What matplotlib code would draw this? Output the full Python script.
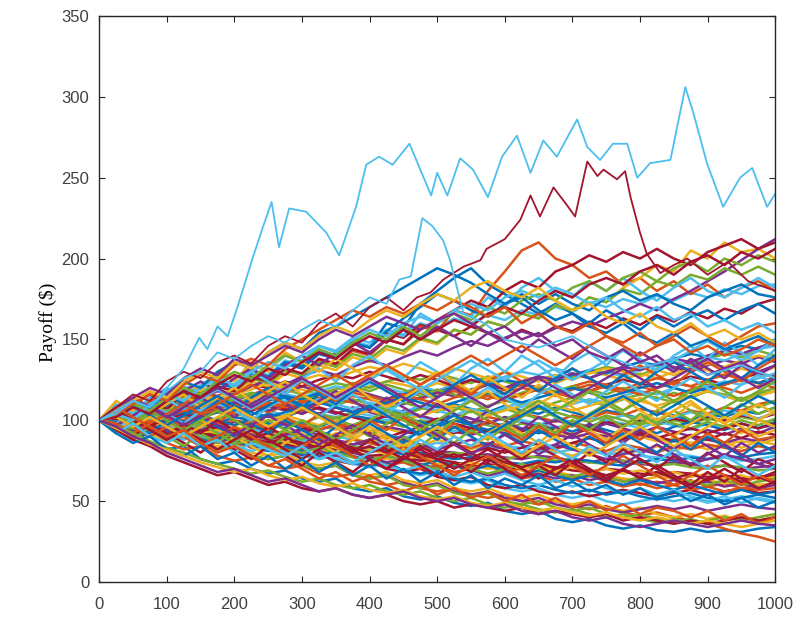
import numpy as np
import matplotlib
matplotlib.use("Agg")
import matplotlib.pyplot as plt

# MATLAB default colour order
line_colors = ["#0072BD", "#D95319", "#EDB120", "#7E2F8E", "#77AC30", "#4DBEEE", "#A2142F"]

# bulk paths, read every 25 steps (0..1000)
bulk_paths = [
    [100,93,95,86,82,84,76,73,75,70,67,69,64,62,64,58,56,58,53,51,53,49,47,49,44,42,44,39,37,39,35,33,35,32,31,33,31,32,31,33,34],
    [100,95,90,92,86,82,84,78,75,77,72,70,72,67,65,67,62,60,62,58,56,58,54,52,54,50,48,50,47,45,47,43,41,43,40,38,36,33,30,28,25],
    [100,97,99,93,90,92,86,84,86,80,78,80,74,72,74,68,66,68,63,61,63,58,56,58,54,52,54,50,48,50,46,44,46,42,40,42,39,41,38,40,42],
    [100,94,96,90,88,90,84,82,84,78,76,78,72,70,72,66,64,66,61,59,61,56,54,56,52,50,52,48,46,48,45,43,45,47,45,47,44,46,48,46,45],
    [100,96,98,92,89,91,85,82,84,78,76,78,72,70,72,66,64,66,60,58,60,55,53,55,50,48,50,46,44,46,42,40,42,39,37,39,36,38,40,38,40],
    [100,97,99,94,91,93,88,86,88,83,81,83,78,76,78,73,71,73,68,66,68,63,61,63,58,56,58,54,52,54,50,48,50,52,50,52,49,51,53,51,49],
    [100,103,99,96,98,92,90,92,86,84,86,80,78,80,75,73,75,70,68,70,65,63,65,60,58,60,56,54,56,53,55,57,55,53,55,57,54,56,58,55,56],
    [100,98,101,95,93,95,89,87,89,84,82,84,79,77,79,74,72,74,69,67,69,64,62,64,60,58,60,57,55,57,54,56,53,51,53,55,52,50,52,54,52],
    [100,104,99,101,95,97,91,93,88,90,85,87,82,84,79,81,77,79,74,76,72,74,70,72,68,70,66,68,64,66,62,64,60,62,60,63,59,61,58,60,60],
    [100,97,99,96,93,95,92,90,88,89,86,84,85,82,80,81,78,76,77,75,73,74,72,70,71,69,67,68,66,65,66,64,63,65,64,62,63,61,62,60,61],
    [100,104,101,98,100,97,95,97,94,92,93,90,88,89,87,85,86,84,82,83,81,80,78,79,77,76,78,77,75,74,76,75,73,72,74,73,71,72,70,71,72],
    [100,99,96,98,95,92,94,91,89,90,88,86,87,85,83,84,82,80,81,79,78,80,79,77,76,78,77,75,76,74,73,75,74,72,73,71,70,72,71,69,70],
    [100,102,105,101,98,100,97,95,93,95,92,90,91,89,90,88,86,87,85,84,86,85,83,82,84,83,81,80,82,81,79,80,78,77,79,78,76,77,75,76,78],
    [100,98,101,97,94,91,93,90,88,86,87,85,83,84,82,80,78,79,77,75,76,74,72,73,71,70,72,71,69,68,70,69,67,66,68,67,65,66,64,65,66],
    [100,101,98,95,97,94,96,93,91,89,90,87,85,86,84,82,83,81,79,80,78,76,77,75,74,73,75,74,76,75,73,72,74,76,75,77,76,78,77,79,80],
    [100,97,99,93,95,89,91,86,88,83,85,80,82,77,79,74,76,72,74,70,72,68,70,66,68,64,66,62,64,60,62,59,61,58,60,57,59,56,58,57,58],
    [100,103,100,104,101,99,102,100,97,99,96,98,95,97,94,96,93,95,92,94,91,93,95,92,94,91,93,90,92,89,91,88,90,87,89,86,88,85,87,86,88],
    [100,98,101,99,97,100,98,96,99,97,95,98,96,94,97,95,93,96,94,92,95,93,91,94,92,90,93,91,89,92,90,88,91,89,87,90,88,86,89,87,90],
    [100,102,99,103,106,104,101,105,102,100,103,101,98,102,100,97,101,99,96,100,98,95,99,97,94,98,96,93,97,95,98,96,99,97,100,98,101,99,102,100,98],
    [100,104,107,105,109,106,110,107,105,108,106,103,107,104,102,105,103,100,104,102,99,103,101,98,102,100,97,101,99,96,100,98,95,99,97,94,98,96,93,97,95],
    [100,97,95,98,96,93,97,95,92,96,94,91,95,93,90,94,92,89,93,91,94,92,95,93,96,94,97,95,98,96,99,97,100,98,101,99,102,100,103,101,104],
    [100,101,104,102,99,103,101,98,102,100,104,102,106,104,108,105,109,107,104,108,106,110,107,105,109,106,104,108,105,102,106,104,101,105,103,100,104,102,106,104,108],
    [100,99,102,100,104,102,99,97,100,98,95,99,97,94,98,96,100,98,101,99,96,100,98,102,100,104,102,99,103,101,105,103,107,105,102,106,104,108,106,110,112],
    [100,96,99,97,94,98,95,92,96,93,90,94,91,88,92,89,86,90,87,84,88,85,82,86,83,80,84,81,78,82,79,83,80,84,81,85,82,86,83,87,85],
    [100,103,106,103,107,104,108,111,108,112,109,106,110,107,104,108,105,102,106,103,100,104,101,98,102,99,96,100,97,94,98,95,92,96,93,90,94,91,95,92,96],
    [100,98,95,99,102,100,97,101,104,102,99,103,106,104,101,105,108,106,103,107,110,108,105,109,112,110,107,111,114,112,109,113,116,114,111,115,118,116,113,117,120],
    [100,102,100,97,95,98,96,93,91,94,92,89,87,90,88,85,88,91,89,92,95,93,96,99,97,100,98,95,99,102,100,103,101,98,102,105,103,106,104,101,105],
    [100,97,100,103,101,104,102,105,108,106,109,107,104,108,105,102,99,103,100,97,101,98,95,99,96,93,97,94,91,95,92,89,93,90,87,91,88,92,89,93,91],
    [100,104,101,98,102,105,103,100,97,101,98,95,99,96,100,103,101,98,102,99,96,100,97,94,98,95,92,96,93,97,94,91,95,92,96,99,97,94,98,95,99],
    [100,99,97,100,98,95,93,96,94,91,89,92,90,87,85,88,86,83,81,84,82,85,83,86,84,87,85,82,86,84,81,85,83,80,84,82,85,83,81,84,82],
    [100,103,107,110,108,112,115,113,117,114,118,121,119,116,120,117,121,124,122,119,123,120,124,127,125,122,126,123,127,130,128,125,129,126,130,133,131,128,132,129,133],
    [100,105,102,106,110,107,111,114,112,116,119,117,121,118,115,119,116,113,117,120,118,122,125,123,120,124,127,125,129,126,130,128,132,135,133,130,134,137,135,139,136],
    [100,102,106,104,108,111,109,113,110,114,117,115,112,116,119,123,120,124,127,125,129,126,123,127,124,121,125,128,126,130,133,131,128,132,136,134,138,141,139,143,140],
    [100,98,102,105,103,107,104,108,111,109,113,116,114,118,121,119,123,120,117,121,118,122,125,123,127,130,128,132,129,126,130,127,131,134,132,136,139,137,141,144,146],
    [100,104,108,106,110,113,117,115,119,122,120,124,121,125,128,126,130,127,124,128,125,121,125,122,119,123,120,117,121,118,122,125,123,120,124,127,125,122,126,129,127],
    [100,97,101,104,102,106,103,107,110,108,112,115,113,117,114,111,115,112,116,119,117,121,118,122,125,123,127,124,128,131,129,133,136,134,138,141,139,143,146,144,150],
    [100,103,101,105,108,106,104,107,110,108,105,109,112,110,114,117,115,112,116,113,117,120,118,115,119,122,120,117,121,124,122,119,123,126,124,121,125,128,126,123,127],
    [100,102,105,109,107,111,114,112,116,119,123,121,125,128,126,130,133,131,135,132,128,132,129,126,130,127,124,128,125,129,132,130,127,131,128,132,135,133,137,140,138],
    [100,104,102,106,109,107,105,108,111,109,106,110,107,104,108,105,109,112,110,114,117,115,119,122,120,124,127,125,129,126,130,133,131,135,138,136,140,143,141,145,148],
    [100,101,104,108,111,109,113,110,114,117,115,119,116,120,123,121,118,122,119,115,119,116,112,116,113,117,120,118,121,119,116,120,117,113,117,114,118,115,112,116,118],
    [100,107,104,114,111,121,118,128,125,134,131,140,137,146,143,151,148,156,153,160,157,163,160,165,162,168,165,170,167,173,170,175,172,177,174,179,176,181,178,183,184],
    [100,106,103,112,109,118,115,124,121,130,127,136,133,142,139,148,145,154,151,159,156,152,158,154,150,156,152,158,155,161,157,163,159,165,161,167,163,169,166,172,175],
    [100,105,102,111,108,117,114,123,120,129,126,135,132,141,138,148,145,160,157,172,180,188,194,184,178,172,166,172,166,160,168,162,156,164,158,164,168,162,168,172,166],
    [100,106,103,111,108,116,113,121,118,126,123,131,128,137,134,143,140,150,147,158,155,168,165,180,192,205,210,200,196,188,192,184,188,180,186,178,184,176,182,186,180],
    [100,104,101,109,106,114,111,119,116,124,121,129,126,134,131,139,136,144,141,150,147,156,153,161,158,166,163,171,168,176,173,182,188,196,192,205,200,210,204,206,200],
    [100,104,102,107,111,109,114,118,116,121,125,122,127,131,128,133,137,134,139,143,140,145,149,146,151,155,152,157,161,158,163,167,172,168,175,180,186,192,199,206,212],
    [100,104,101,110,107,115,112,121,118,126,123,131,128,136,133,141,138,146,143,151,148,156,153,161,158,166,163,171,168,176,173,181,178,186,183,190,187,194,190,195,190],
    [100,107,104,113,110,119,116,125,122,131,128,137,134,143,140,149,146,155,152,166,160,168,164,176,170,182,188,180,176,186,180,188,180,174,182,188,180,176,182,188,182],
    [100,105,102,110,107,116,113,121,118,127,124,132,129,138,135,144,141,150,147,156,162,168,174,170,180,186,182,192,196,202,198,204,200,206,200,196,204,208,212,206,210],
    [100,106,103,112,109,118,115,124,121,130,127,136,133,142,139,148,145,155,163,170,178,174,168,164,172,178,172,178,172,168,176,180,174,178,172,168,176,180,184,178,176],
    [100,98,96,99,102,100,103,106,104,107,110,108,111,114,112,115,113,110,114,117,115,118,116,113,117,120,118,115,119,122,120,117,121,118,115,119,122,120,117,121,124],
    [100,102,99,96,98,95,92,94,91,88,90,87,84,86,83,80,82,79,76,78,75,72,74,71,73,70,72,69,71,68,70,67,69,66,68,65,67,64,66,63,65],
    [100,97,94,96,93,90,92,89,86,88,85,82,84,81,78,80,77,74,76,73,70,72,69,66,68,65,67,64,66,63,65,62,64,61,63,60,62,59,61,58,60],
    [100,103,105,108,106,109,112,110,113,116,114,111,115,112,109,113,110,107,111,108,105,109,106,103,107,104,101,105,102,99,103,100,97,101,98,95,99,96,100,97,101],
    [100,99,103,101,105,108,106,110,107,111,114,112,109,113,110,107,111,108,105,109,106,103,107,104,108,111,109,106,110,113,111,115,118,116,120,117,121,124,122,126,129],
    [100,101,98,95,92,95,92,89,92,89,86,89,86,83,86,83,80,83,80,77,80,77,80,83,80,83,86,83,86,89,86,89,92,89,92,95,92,95,98,95,98],
    [100,96,93,90,93,90,87,90,87,84,81,84,81,78,81,78,75,78,75,72,75,72,69,72,69,66,69,66,63,66,63,60,63,60,57,60,57,54,57,54,56],
    [100,104,101,105,102,106,109,107,104,108,111,109,106,110,113,111,108,112,115,113,110,114,117,115,112,116,119,117,114,118,121,119,116,120,123,121,118,122,125,123,120],
    [100,102,105,103,100,97,100,97,94,97,100,103,100,97,100,103,106,103,100,103,106,109,106,103,106,109,112,109,106,109,112,115,112,109,112,115,118,115,112,115,118],
    [100,98,100,97,94,91,94,97,94,91,88,91,94,91,88,85,88,91,88,85,82,85,88,85,82,79,82,85,82,79,76,79,82,79,76,73,76,79,76,73,70],
    [100,97,95,92,90,93,90,87,85,88,85,82,80,83,80,77,75,78,75,72,70,73,70,67,70,73,70,67,65,68,65,62,65,68,65,62,60,63,60,62,64],
    [100,96,99,95,91,88,91,87,84,81,84,80,77,80,76,73,76,72,69,72,68,65,68,64,67,63,60,63,59,62,58,55,58,54,57,53,50,53,49,52,50],
    [100,103,100,97,100,96,93,96,92,89,92,88,85,88,84,81,84,80,83,79,76,79,75,78,74,71,74,70,73,69,66,69,65,68,64,67,63,66,62,65,61],
    [100,99,102,105,102,99,102,105,108,105,102,105,108,111,108,105,108,111,114,111,108,111,114,117,114,111,114,117,120,117,114,117,120,123,120,117,120,123,126,123,126],
    [100,108,104,112,116,110,118,114,106,112,120,116,124,118,112,120,126,120,114,122,128,122,116,124,130,124,118,126,132,126,120,128,134,128,122,130,136,130,124,132,138],
    [100,94,100,92,86,94,88,82,90,84,78,86,92,86,80,88,94,88,82,90,96,90,84,92,98,92,86,94,100,94,88,96,102,96,90,98,104,98,92,100,96],
    [100,106,112,106,100,108,114,108,102,110,116,110,104,112,118,112,106,114,108,102,110,104,98,106,100,94,102,96,90,98,92,86,94,88,82,90,84,78,86,80,84],
    [100,92,98,104,96,90,98,92,86,94,100,94,88,96,102,96,90,98,104,98,92,100,106,100,94,102,108,102,96,104,110,104,98,106,112,106,100,108,114,108,112],
    [100,110,104,114,120,112,122,128,120,130,124,116,126,132,124,134,140,132,126,136,130,122,132,138,130,140,134,126,136,142,134,144,138,130,140,146,138,148,142,134,144],
    [100,96,90,98,92,86,80,88,82,76,84,78,72,80,74,68,76,70,78,72,66,74,68,76,70,64,72,66,74,68,62,70,64,72,66,60,68,62,70,64,68],
    [100,104,98,92,100,94,102,96,90,98,92,100,94,88,96,90,98,92,86,94,88,96,90,84,92,86,94,88,82,90,84,92,86,80,88,82,90,84,78,86,80],
    [100,106,100,108,102,96,104,98,106,100,94,102,96,104,98,92,100,94,102,96,90,98,92,100,94,88,96,90,98,92,86,94,88,96,90,84,92,86,94,88,90],
    [100,112,106,118,112,124,118,130,124,136,130,142,136,130,138,132,126,134,128,122,130,124,118,126,120,114,122,116,110,118,112,106,114,108,102,110,104,98,106,100,106],
    [100,104,110,116,110,118,124,118,126,132,126,134,140,134,142,148,142,150,156,150,158,152,146,154,148,142,150,144,138,146,140,134,142,136,130,138,132,126,134,128,134],
    [100,94,88,96,90,84,92,86,94,88,82,90,84,92,86,80,88,82,90,84,92,86,94,88,96,90,98,92,100,94,102,96,104,98,106,100,108,102,110,104,108],
    [100,98,104,110,104,98,106,112,106,100,108,114,108,102,110,116,110,104,112,118,112,106,114,120,114,108,116,122,116,110,118,124,118,112,120,126,120,114,122,128,122],
    [100,96,102,96,90,98,92,100,94,88,96,90,84,92,86,80,88,82,76,84,78,86,80,74,82,76,84,78,72,80,74,82,76,70,78,72,80,74,68,76,72],
    [100,108,102,110,116,110,104,112,106,114,120,114,108,116,110,118,124,118,112,120,114,122,128,122,116,124,118,126,132,126,120,128,122,130,136,130,124,132,126,134,140],
    [100,102,96,90,96,90,84,90,96,90,84,78,84,90,84,78,72,78,84,78,72,66,72,78,72,66,72,78,72,66,72,78,72,66,60,66,72,66,60,66,62],
    [100,106,112,104,110,116,108,114,120,112,118,124,116,110,116,122,114,108,114,120,112,106,112,118,110,104,110,116,108,102,108,114,106,100,106,112,104,98,104,110,104],
    [100,97,103,109,103,97,103,97,91,97,103,97,91,85,91,97,91,85,91,97,91,85,79,85,91,85,79,85,91,85,79,73,79,85,79,73,79,85,79,73,76],
    [100,104,98,106,100,94,100,106,100,94,88,94,100,94,88,94,100,106,100,94,100,106,112,106,100,106,112,106,112,118,112,106,112,118,112,118,124,118,112,118,124],
    [100,95,101,107,113,107,113,119,113,107,113,119,125,119,113,119,125,131,125,119,125,131,137,131,125,131,137,131,125,131,137,143,137,131,137,143,149,143,137,143,150],
    [100,106,100,94,88,94,88,82,88,94,88,82,76,82,88,82,76,70,76,82,76,70,76,82,76,70,64,70,76,70,64,70,76,70,64,58,64,70,64,58,62],
    [100,103,109,103,97,103,109,115,109,103,109,115,109,103,97,103,109,103,97,91,97,103,97,91,97,103,109,103,97,103,109,115,109,103,109,115,109,103,109,115,110],
    [100,98,92,98,104,110,104,110,116,122,116,110,116,122,128,122,128,134,128,122,128,134,140,134,140,146,140,134,140,146,152,146,140,146,152,158,152,146,152,158,160],
    [100,102,96,102,96,90,96,102,108,102,96,102,108,102,96,90,96,90,84,90,96,90,84,90,84,78,84,90,84,78,84,90,96,90,84,90,96,102,96,90,94],
    [100,108,114,108,102,108,114,120,114,108,114,120,126,120,114,120,126,120,114,108,114,120,114,108,114,120,126,120,114,120,126,132,126,120,126,132,138,132,126,120,126],
    [100,104,110,106,114,120,116,124,130,126,134,140,136,144,140,148,154,150,158,152,160,166,162,170,166,174,178,174,182,186,180,188,192,186,194,198,192,200,196,202,198],
    [100,104,100,110,116,112,120,126,122,130,136,132,140,146,142,150,156,152,160,164,160,168,172,168,176,180,176,182,178,172,176,168,164,170,162,166,158,162,156,160,154],
    [100,102,108,104,112,118,114,122,128,124,132,128,136,142,138,146,152,148,156,150,156,162,158,166,170,166,174,180,176,184,188,184,192,196,190,198,202,196,204,200,206],
    [100,106,112,108,118,124,120,130,136,132,142,148,144,154,158,164,170,176,182,188,194,190,185,178,172,176,168,162,166,158,154,160,152,148,154,146,150,144,148,152,146],
    [100,104,110,116,112,122,128,124,134,138,134,144,150,156,162,168,164,170,166,172,168,174,170,164,170,160,166,158,154,160,152,148,154,146,150,142,146,140,144,150,146],
    [100,106,112,118,114,124,130,126,136,132,142,148,144,152,158,154,162,168,164,172,178,174,182,186,180,176,182,174,168,172,164,160,166,158,154,160,152,156,150,154,148],
    [100,108,114,120,116,126,132,128,138,134,140,146,142,150,156,152,158,164,160,156,162,166,160,154,158,150,154,146,150,142,138,144,136,140,132,136,128,132,136,130,134],
    [100,96,92,87,83,80,76,73,70,67,69,65,62,64,60,58,60,56,54,56,52,50,52,48,46,48,45,43,45,42,40,42,39,37,39,36,38,40,38,40,42],
    [100,92,98,90,86,92,84,88,80,86,82,78,84,76,80,74,80,86,80,88,82,90,84,92,86,80,88,82,76,84,78,86,80,74,82,76,70,78,72,66,72],
    [100,94,88,84,78,74,70,66,68,64,60,62,58,56,58,54,52,54,50,48,50,46,48,46,44,46,42,44,42,40,42,38,40,38,36,38,36,38,40,38,40],
    [100,92,86,90,82,78,84,76,80,72,78,70,76,68,74,66,72,64,70,62,68,60,66,58,64,60,66,58,62,56,60,54,58,52,56,50,54,48,52,46,50],
    [100,108,102,96,90,94,86,80,84,78,72,76,70,64,68,62,66,60,56,60,54,58,52,56,50,54,48,52,46,50,44,48,42,46,44,40,44,38,42,36,40],
    [100,95,90,85,82,78,74,71,68,70,66,63,65,61,59,61,57,55,57,53,51,53,49,47,49,46,44,46,43,41,43,40,38,40,38,36,38,36,34,36,38],
    [100,96,90,86,80,76,72,68,70,66,62,64,60,56,58,54,52,54,56,52,50,52,48,46,48,44,42,44,40,38,40,36,34,36,38,36,34,36,38,36,35],
]

# highlighted outliers (step, value)
cyan_top_steps = [0, 25, 50, 75, 100, 125, 148, 160, 175, 190, 203, 212, 226, 241, 255, 266, 281, 306, 336, 355, 380,
                  395, 414, 434, 459, 491, 500, 515, 534, 553, 575, 596, 618, 638, 657, 677, 707, 722, 741,
                  760, 781, 796, 815, 845, 867, 879, 899, 923, 948, 966, 988, 1000]
cyan_top_vals = [100, 104, 112, 108, 120, 132, 151, 144, 158, 152, 168, 180, 199, 218, 235, 207, 231, 229, 216, 202, 232,
                 258, 263, 258, 271, 239, 253, 239, 262, 255, 238, 263, 276, 253, 273, 263, 286, 269, 261,
                 271, 271, 250, 259, 261, 306, 290, 259, 232, 250, 256, 232, 240]

cyan_low_steps = [0, 25, 50, 75, 100, 125, 150, 175, 200, 225, 250, 275, 300, 325, 350, 375, 400, 425, 444, 461, 478,
                  493, 509, 519, 539, 570, 600, 650, 700, 750, 800, 850, 900, 950, 1000]
cyan_low_vals = [100, 106, 112, 108, 118, 126, 130, 142, 138, 146, 152, 148, 156, 162, 158, 168, 176, 172, 187, 189, 225,
                 220, 211, 199, 166, 160, 150, 145, 152, 140, 132, 138, 128, 134, 126]

red_steps = [0, 25, 50, 75, 100, 125, 150, 175, 200, 225, 250, 275, 300, 325, 350, 375, 400, 425, 450, 470, 490,
             509, 539, 564, 573, 600, 623, 638, 652, 672, 692, 704, 722, 737, 746, 766, 778, 786, 800, 810, 830,
             850, 870, 900, 930, 960, 1000]
red_vals = [100, 108, 116, 112, 124, 130, 126, 136, 140, 135, 146, 152, 148, 160, 166, 158, 170, 176, 168, 176, 179,
            187, 195, 199, 206, 212, 224, 239, 226, 244, 233, 226, 260, 251, 255, 249, 254, 238, 216, 203, 191,
            196, 200, 190, 198, 186, 180]

fig = plt.figure(figsize=(8, 6.24), dpi=100)
ax = fig.add_axes([0.124, 0.0673, 0.845, 0.9071])

for i, vals in enumerate(bulk_paths):
    steps = np.linspace(0, 1000, len(vals))
    ax.plot(steps, vals, color=line_colors[i % 7], lw=1.8)

ax.plot(red_steps, red_vals, color="#A2142F", lw=1.3)
ax.plot(cyan_low_steps, cyan_low_vals, color="#4DBEEE", lw=1.3)
ax.plot(cyan_top_steps, cyan_top_vals, color="#4DBEEE", lw=1.3)

ax.set_xlim(0, 1000)
ax.set_ylim(0, 350)
ax.set_xticks(np.arange(0, 1001, 100))
ax.set_yticks(np.arange(0, 351, 50))
ax.tick_params(direction="in", length=4, width=0.8, top=True, right=True,
               labelsize=12, labelcolor="#404040", color="#262626")
ax.tick_params(axis="x", pad=11)
ax.tick_params(axis="y", pad=7)
for lbl in ax.get_xticklabels() + ax.get_yticklabels():
    lbl.set_family("Liberation Sans")
for s in ax.spines.values():
    s.set_color("#262626")
    s.set_linewidth(1.0)

fig.text(48 / 800, 1 - 322 / 624, "Payoff ($)", rotation=90, ha="center", va="center",
         fontsize=14, family="Liberation Serif", color="black")

fig.savefig("out.png", dpi=100)
